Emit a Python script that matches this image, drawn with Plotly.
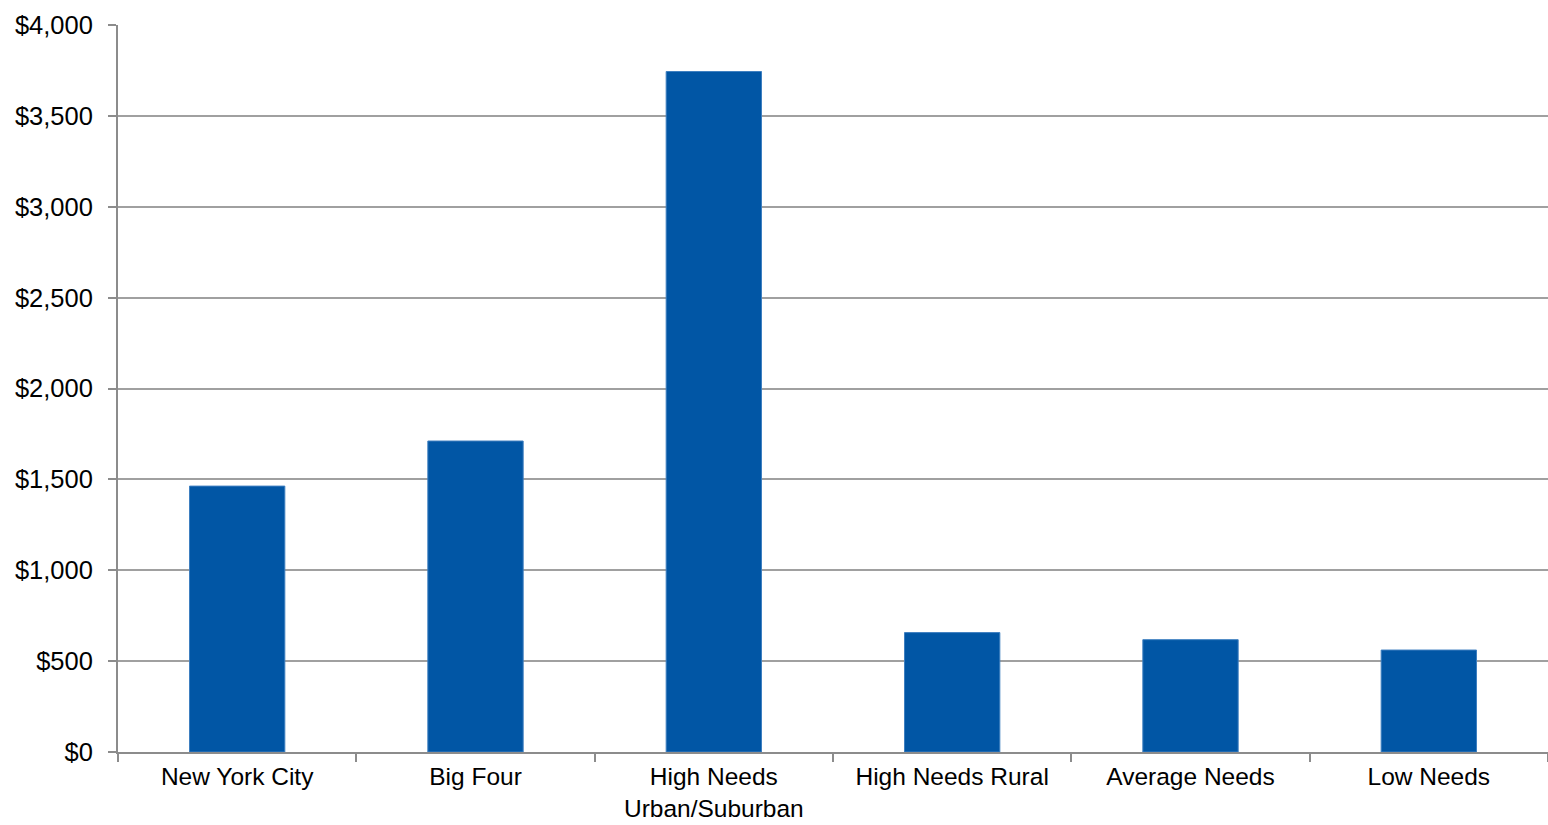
import plotly.graph_objects as go

categories = ["New York City", "Big Four", "High Needs<br>Urban/Suburban",
              "High Needs Rural", "Average Needs", "Low Needs"]
values = [1463, 1711, 3744, 657, 618, 561]
y_ticks = [0, 500, 1000, 1500, 2000, 2500, 3000, 3500, 4000]
y_tick_labels = ["$0", "$500", "$1,000", "$1,500", "$2,000", "$2,500",
                 "$3,000", "$3,500", "$4,000"]

fig = go.Figure(go.Bar(
    x=categories, y=values,
    marker=dict(color="#0156A5", line=dict(color="#3E7FC0", width=1)),
    width=0.4,
))

yfont = dict(family="Liberation Sans, Arial, sans-serif", size=25.5, color="#000000")
xfont = dict(family="Liberation Sans, Arial, sans-serif", size=24.5, color="#000000")

fig.update_layout(
    width=1548, height=825,
    margin=dict(l=118, r=0, t=25, b=73),
    paper_bgcolor="white", plot_bgcolor="white",
    showlegend=False,
    font=yfont,
    bargap=0.6,
)
fig.update_xaxes(
    type="category", automargin=False,
    showline=True, linecolor="#8C8C8C", linewidth=2,
    ticks="outside", tickson="boundaries", ticklen=8, tickwidth=2, tickcolor="#8C8C8C",
    showgrid=False, tickfont=xfont, ticklabelstandoff=2,
)
fig.update_yaxes(
    range=[0, 4000], tickvals=y_ticks, ticktext=y_tick_labels, automargin=False,
    showline=True, linecolor="#8C8C8C", linewidth=2,
    ticks="outside", ticklen=8, tickwidth=2, tickcolor="#8C8C8C",
    showgrid=True, gridcolor="#A0A0A0", gridwidth=2,
    zeroline=False, tickfont=yfont, ticklabelstandoff=10,
)

fig.write_html("out.html")
